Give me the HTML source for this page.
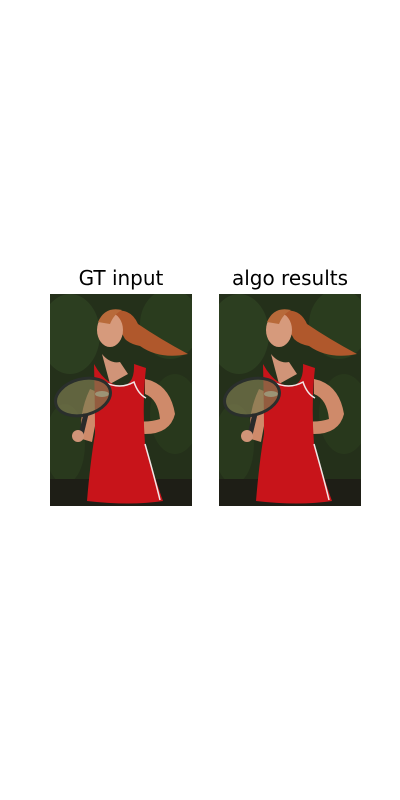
<!DOCTYPE html>
<html><head><meta charset="utf-8"><style>
html,body{margin:0;padding:0;background:#fff;width:400px;height:800px;overflow:hidden}
.t{position:absolute;font-family:"DejaVu Sans","Liberation Sans",sans-serif;font-size:20px;color:#000;text-align:center;width:160px;top:266px}
svg{position:absolute}
</style></head><body>
<div class="t" style="left:41px">GT input</div>
<div class="t" style="left:210px">algo results</div>
<svg width="0" height="0" style="position:absolute">
<defs>
<g id="ph">
<rect x="0" y="0" width="142" height="212" fill="#24301a"/>
<ellipse cx="20" cy="40" rx="30" ry="40" fill="#2c3e20"/>
<ellipse cx="120" cy="30" rx="30" ry="35" fill="#2a3c1e"/>
<ellipse cx="125" cy="120" rx="25" ry="40" fill="#28381c"/>
<ellipse cx="15" cy="150" rx="20" ry="40" fill="#29391d"/>
<rect x="0" y="185" width="142" height="27" fill="#1e1e16"/>
<path d="M60 18 Q80 12 88 30 Q110 45 138 60 Q110 66 90 52 Q80 50 75 45 Z" fill="#b0582c"/>
<ellipse cx="60" cy="36" rx="13" ry="17" fill="#d69a7c"/>
<path d="M48 28 Q55 12 72 16 Q64 20 60 30 Z" fill="#b86a3a"/>
<path d="M40 95 Q28 120 32 145 L42 148 Q46 125 52 100 Z" fill="#cf8a6a"/>
<path d="M95 85 Q120 90 125 120 Q120 140 95 140 L70 135 L75 125 Q95 130 110 125 Q108 105 95 100 Z" fill="#cf8a6a"/>
<path d="M52 60 Q60 70 70 68 L78 80 L60 90 Z" fill="#d09478"/>
<path d="M44 70 Q55 90 70 92 Q85 92 84 70 L96 74 Q92 110 95 150 Q105 185 113 207 Q80 212 37 207 Q40 170 45 140 Q45 110 44 70 Z" fill="#c8141a"/>
<path d="M54 88 Q70 96 84 88 Q88 100 96 104" stroke="#f2e6e6" stroke-width="1.5" fill="none"/>
<path d="M95 150 Q105 185 110 206" stroke="#f2e6e6" stroke-width="1.5" fill="none"/>
<ellipse cx="52" cy="100" rx="7" ry="3" fill="#e8d0d0"/>
<g transform="rotate(-15 33 103)">
<ellipse cx="33" cy="103" rx="28" ry="18" fill="#7c7a50" fill-opacity="0.7" stroke="#2a2f2c" stroke-width="3"/>
</g>
<path d="M36 120 L30 145" stroke="#2a2a2a" stroke-width="5"/>
<ellipse cx="28" cy="142" rx="6" ry="6" fill="#d09478"/>
</g>
</defs>
</svg>
<svg style="left:50px;top:294px" width="142" height="212" viewBox="0 0 142 212"><use href="#ph"/></svg>
<svg style="left:219px;top:294px" width="142" height="212" viewBox="0 0 142 212"><use href="#ph"/></svg>
</body></html>
